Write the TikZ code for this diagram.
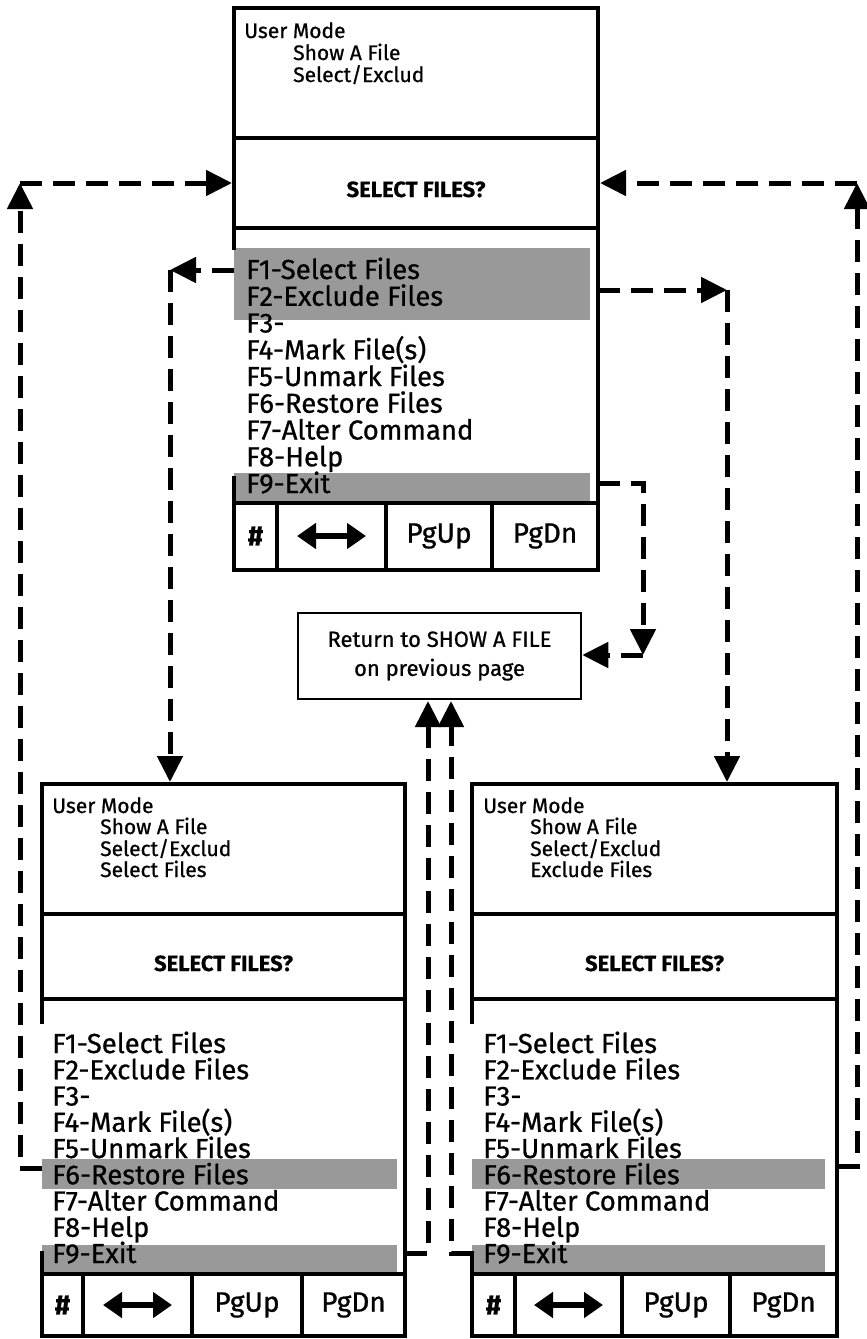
\documentclass[tikz,border=0pt]{standalone}
\usepackage{fontspec}
\setmainfont{Fira Sans}[UprightFeatures={FakeBold=0.8},BoldFeatures={FakeBold=0.6}]
\usetikzlibrary{arrows.meta}
\begin{document}
\begin{tikzpicture}[x=1pt,y=-1pt,
  frame/.style={line width=4.5pt, line cap=rect},
  conn/.style={line width=5pt, dash pattern=on 22pt off 11pt},
  tip/.style={-{Triangle[length=26pt,width=25pt]}},
  hl/.style={fill=black!40, draw=none},
  menu/.style={anchor=base west, inner sep=0pt, font=\fontsize{27.5}{27.5}\selectfont},
  hdr/.style={anchor=base west, inner sep=0pt, font=\fontsize{21}{21}\selectfont},
  qst/.style={anchor=base, inner sep=0pt, font=\bfseries\fontsize{22}{22}\selectfont},
  btn/.style={inner sep=0pt, font=\fontsize{28}{28}\selectfont},
  dbl/.style={line width=6pt, {Triangle[length=19pt,width=25pt]}-{Triangle[length=19pt,width=25pt]}},
]
\useasboundingbox (0,0) rectangle (867,1339);

% ================= highlights =================
\fill[hl] (234,248) rectangle (590,320);
\fill[hl] (234,473) rectangle (590,503);
\fill[hl] (42,1159) rectangle (397,1189);
\fill[hl] (42,1245) rectangle (397,1274);
\fill[hl] (472,1159) rectangle (825,1189);
\fill[hl] (472,1245) rectangle (825,1274);

% ================= top box =================
\draw[frame] (234,248) -- (234,8) -- (598,8) -- (598,570) -- (234,570) -- (234,478);
\draw[frame] (234,138) -- (598,138);
\draw[frame] (234,228) -- (598,228);
\draw[frame] (234,503) -- (598,503);
\foreach \x in {277,386,492} \draw[frame] (\x,503) -- (\x,570);
\node[hdr] (T-h1) at (244,38) {User Mode};
\node[hdr] (T-h2) at (293,60) {Show A File};
\node[hdr] (T-h3) at (293,82) {Select/Exclud};
\node[qst] (T-q) at (416,197) {SELECT FILES?};
\foreach \i/\t in {1/F1-Select Files,2/F2-Exclude Files,3/F3-,4/F4-Mark File(s),5/F5-Unmark Files,6/F6-Restore Files,7/F7-Alter Command,8/F8-Help,9/F9-Exit}
  \node[menu] (T-m\i) at (246,{279+26.75*(\i-1)}) {\t};
\node[btn] (T-b1) at (255.5,536) {\bfseries\#};
\draw[dbl] (297,536) -- (366,536);
\node[btn] (T-b3) at (439,536) {PgUp};
\node[btn] (T-b4) at (545,536) {PgDn};

% ================= bottom-left box =================
\draw[frame] (42,1022) -- (42,784) -- (405,784) -- (405,1336) -- (42,1336) -- (42,1253);
\draw[frame] (42,914) -- (405,914);
\draw[frame] (42,999) -- (405,999);
\draw[frame] (42,1274) -- (405,1274);
\foreach \x in {83,192,302} \draw[frame] (\x,1274) -- (\x,1336);
\node[hdr] (L-h1) at (52,813) {User Mode};
\node[hdr] (L-h2) at (100,834) {Show A File};
\node[hdr] (L-h3) at (100,856) {Select/Exclud};
\node[hdr] (L-h4) at (100,877) {Select Files};
\node[qst] (L-q) at (223.5,971) {SELECT FILES?};
\foreach \i/\t in {1/F1-Select Files,2/F2-Exclude Files,3/F3-,4/F4-Mark File(s),5/F5-Unmark Files,6/F6-Restore Files,7/F7-Alter Command,8/F8-Help,9/F9-Exit}
  \node[menu] (L-m\i) at (52,{1053+26.25*(\i-1)}) {\t};
\node[btn] (L-b1) at (62.5,1305) {\bfseries\#};
\draw[dbl] (103,1305) -- (172,1305);
\node[btn] (L-b3) at (247,1305) {PgUp};
\node[btn] (L-b4) at (353.5,1305) {PgDn};

% ================= bottom-right box =================
\draw[frame] (472,1022) -- (472,784) -- (837,784) -- (837,1336) -- (472,1336) -- (472,1253);
\draw[frame] (472,914) -- (837,914);
\draw[frame] (472,999) -- (837,999);
\draw[frame] (472,1274) -- (837,1274);
\foreach \x in {515,622,730} \draw[frame] (\x,1274) -- (\x,1336);
\node[hdr] (R-h1) at (483,813) {User Mode};
\node[hdr] (R-h2) at (530,834) {Show A File};
\node[hdr] (R-h3) at (530,856) {Select/Exclud};
\node[hdr] (R-h4) at (530,877) {Exclude Files};
\node[qst] (R-q) at (654.5,971) {SELECT FILES?};
\foreach \i/\t in {1/F1-Select Files,2/F2-Exclude Files,3/F3-,4/F4-Mark File(s),5/F5-Unmark Files,6/F6-Restore Files,7/F7-Alter Command,8/F8-Help,9/F9-Exit}
  \node[menu] (R-m\i) at (483,{1053+26.25*(\i-1)}) {\t};
\node[btn] (R-b1) at (493.5,1305) {\bfseries\#};
\draw[dbl] (534,1305) -- (603,1305);
\node[btn] (R-b3) at (676,1305) {PgUp};
\node[btn] (R-b4) at (783.5,1305) {PgDn};

% ================= return box =================
\node[draw, line width=2.5pt, minimum width=283pt, minimum height=86pt, inner sep=0pt,
      align=center, font=\fontsize{22}{29}\selectfont] (ret) at (439.5,656)
      {Return to SHOW A FILE\\on previous page};

% ================= connector points =================
\coordinate (T-f1) at (234,270);
\coordinate (T-f2) at (598,290);
\coordinate (T-f9) at (598,483);
\coordinate (T-in) at (232,183);
\coordinate (T-inR) at (600,183);
\coordinate (L-in) at (170,782);
\coordinate (R-in) at (727,782);
\coordinate (L-f6) at (42,1168);
\coordinate (R-f6) at (837,1166);
\coordinate (L-f9) at (405,1253);
\coordinate (R-f9) at (472,1253);
\coordinate (c1) at (170,270);
\coordinate (c2) at (727,290);
\coordinate (c3) at (643,655);
\coordinate (c4) at (20,183);
\coordinate (c5) at (857,183);
\coordinate (r1) at (428,701);
\coordinate (r2) at (451,701);

% ================= connectors =================
\draw[conn,tip] (T-f1) -- (c1);
\draw[conn,tip] (c1) -- (L-in);
\draw[conn,tip] (T-f2) -- (c2);
\draw[conn,tip] (c2) -- (R-in);
\draw[conn,tip] (T-f9) -| (c3);
\draw[conn,tip] (c3) -- (ret.east |- c3);
\draw[conn,tip] (L-f6) -| (c4);
\draw[conn,tip] (c4) -- (T-in);
\draw[conn,tip] (R-f6) -| (c5);
\draw[conn,tip] (c5) -- (T-inR);
\draw[conn,tip] (L-f9) -| (r1);
\draw[conn,tip] (R-f9) -| (r2);
\end{tikzpicture}
\end{document}
